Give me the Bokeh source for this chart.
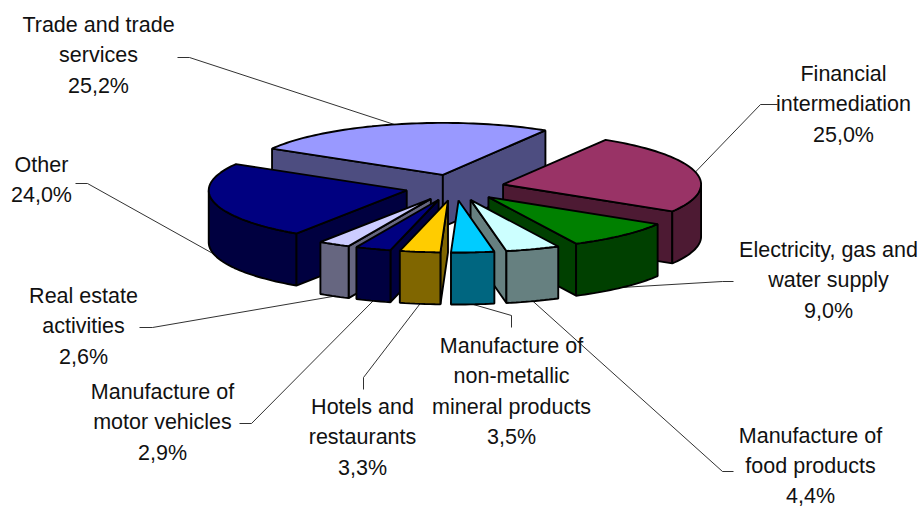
import math

from bokeh.core.properties import value
from bokeh.embed import file_html
from bokeh.models import ColumnDataSource
from bokeh.plotting import figure
from bokeh.resources import INLINE

# Branch shares, clockwise from the start angle
sectors = ["Financial intermediation", "Electricity, gas and water supply",
           "Manufacture of food products", "Manufacture of non-metallic mineral products",
           "Hotels and restaurants", "Manufacture of motor vehicles",
           "Real estate activities", "Other", "Trade and trade services"]
shares = [25.0, 9.0, 4.4, 3.5, 3.3, 2.9, 2.6, 24.0, 25.2]
share_labels = ["25,0%", "9,0%", "4,4%", "3,5%", "3,3%", "2,9%", "2,6%", "24,0%", "25,2%"]
top_colors = ["#993366", "#008000", "#CCFFFF", "#00CCFF", "#FFCC00",
              "#000080", "#CCCCFF", "#000080", "#9999FF"]
side_colors = ["#4D1A33", "#004000", "#668080", "#006680", "#806600",
               "#000040", "#666680", "#000040", "#4D4D80"]

# Label text broken into lines, with the block's centre x and first-line y
label_lines = [["Financial", "intermediation"], ["Electricity, gas and", "water supply"],
               ["Manufacture of", "food products"],
               ["Manufacture of", "non-metallic", "mineral products"],
               ["Hotels and", "restaurants"], ["Manufacture of", "motor vehicles"],
               ["Real estate", "activities"], ["Other"], ["Trade and trade", "services"]]
label_x = [843, 828, 810, 511, 362, 162, 83, 41, 98]
label_y = [73.5, 249.5, 435, 345.5, 406.5, 391.5, 295.5, 164.5, 24.5]
LINE_STEP = 30.4

# Leader lines: start beside the label, then an elbow, then on to the slice
leader_start = [(777, 104), (733, 281), (733, 471), (511, 327), (363, 389),
                (239, 423), (139, 327), (75, 183), (177, 57)]
leader_elbow = [(760, 104), (722, 281), (722, 471), (511, 315), (363, 377),
                (251, 423), (152, 327), (87, 183), (189, 57)]

# Pie projection
CX, CY = 454.5, 187.0
RX, RY = 198.0, 52.0
DEPTH = 52.0
EXPLODE = 0.25
START_ANGLE = 31.2


def rim(angle, ox, oy):
    a = math.radians(angle)
    return ox + RX * math.sin(a), oy - RY * math.cos(a)


def arc(a0, a1, ox, oy):
    n = max(2, int(abs(a1 - a0) / 1.5) + 2)
    return [rim(a0 + (a1 - a0) * i / (n - 1), ox, oy) for i in range(n)]


total = sum(shares)
spans = []
angle = START_ANGLE
for share in shares:
    spans.append((angle, angle + 360 * share / total))
    angle = spans[-1][1]

xs, ys, fills = [], [], []


def add_face(points, color):
    xs.append([pt[0] for pt in points])
    ys.append([pt[1] for pt in points])
    fills.append(color)


def drop(points):
    return [(x, y + DEPTH) for x, y in points]


leader_x, leader_y = [], []
order = sorted(range(len(shares)), key=lambda k: -abs(sum(spans[k]) / 2 - 180))
for k in order:
    a0, a1 = spans[k]
    mid = (a0 + a1) / 2
    m = math.radians(mid)
    ox = CX + EXPLODE * RX * math.sin(m)
    oy = CY - EXPLODE * RY * math.cos(m)
    apex = (ox, oy)

    # Visible walls first, then the top face over them
    if math.sin(math.radians(a0)) < 0:
        edge = [apex, rim(a0, ox, oy)]
        add_face(edge + drop(edge)[::-1], side_colors[k])
    if math.sin(math.radians(a1)) > 0:
        edge = [apex, rim(a1, ox, oy)]
        add_face(edge + drop(edge)[::-1], side_colors[k])
    f0, f1 = max(a0, 90), min(a1, 270)
    if f1 > f0:
        curve = arc(f0, f1, ox, oy)
        add_face(curve + drop(curve)[::-1], side_colors[k])
    add_face([apex] + arc(a0, a1, ox, oy), top_colors[k])

    # Leaders meet the top rim at the back of the pie, the lower rim at the front
    end = rim(mid, ox, oy)
    if 90 < mid < 270:
        end = (end[0], end[1] + DEPTH)
    leader_x.append([leader_start[k][0], leader_elbow[k][0], end[0]])
    leader_y.append([leader_start[k][1], leader_elbow[k][1], end[1]])

p = figure(width=921, height=508, x_range=(0, 921), y_range=(508, 0),
           toolbar_location=None, output_backend="svg", min_border=0,
           outline_line_color=None, background_fill_color="white",
           border_fill_color="white")
p.axis.visible = False
p.grid.visible = False

p.multi_line(leader_x, leader_y, line_color="#1a1a1a", line_width=0.9)
p.patches("xs", "ys", source=ColumnDataSource(dict(xs=xs, ys=ys, fills=fills)),
          fill_color="fills", line_color="black", line_width=1.9)

tx, ty, tt = [], [], []
for k, lines in enumerate(label_lines):
    for i, line in enumerate(lines + [share_labels[k]]):
        tx.append(label_x[k])
        ty.append(label_y[k] + i * LINE_STEP)
        tt.append(line)
p.text(tx, ty, text=tt, text_align="center", text_baseline="middle",
       text_font=value("Liberation Sans"), text_font_size="21.5px", text_color="#111111")

open("out.html", "w").write(file_html(p, INLINE))
